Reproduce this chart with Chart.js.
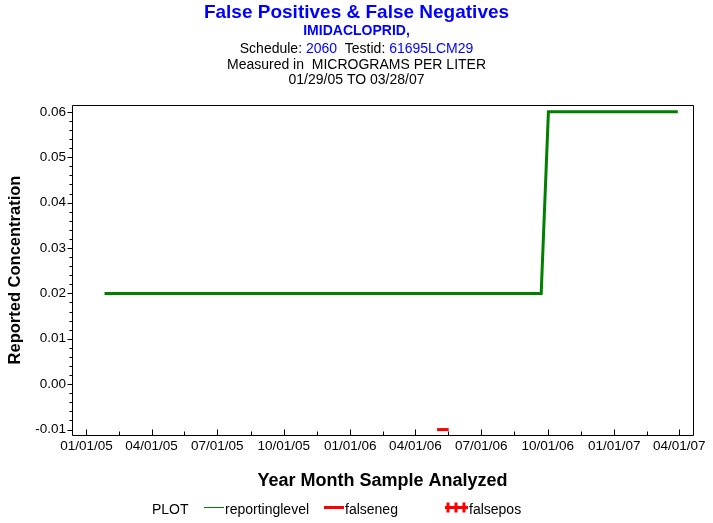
<!DOCTYPE html>
<html lang="en">
<head>
<meta charset="UTF-8">
<title>False Positives &amp; False Negatives</title>
<script src="https://cdn.jsdelivr.net/npm/chart.js"></script>
<style>
  body { margin: 0; background: #fff; }
  .chart-container { position: relative; width: 713px; height: 523px; }
</style>
</head>
<body>
<div class="chart-container"><canvas id="myChart"></canvas></div>
<script>
// data
const reportDates = ['01/26/05', '09/22/06', '10/02/06', '03/30/07'];
const reportValues = [0.02, 0.02, 0.06, 0.06];
const falseNegDates = ['05/01/06', '05/17/06'];
const falseNegValues = [-0.01, -0.01];
const falsePosDates = [];
const falsePosValues = [];
const xTickLabels = ['01/01/05', '04/01/05', '07/01/05', '10/01/05', '01/01/06', '04/01/06',
                     '07/01/06', '10/01/06', '01/01/07', '04/01/07'];
const yTickValues = [-0.01, 0.00, 0.01, 0.02, 0.03, 0.04, 0.05, 0.06];
const xRange = ['12/12/04', '04/20/07'];
const yRange = [-0.0112, 0.0615];

const BLUE = '#0000ff';
const GREEN = '#008000';
const RED = '#ff0000';
const FONT = '"Liberation Sans", Arial, sans-serif';

// mm/dd/yy -> day number
function toDay(s) {
    const [m, d, y] = s.split('/').map(Number);
    return Date.UTC(2000 + y, m - 1, d) / 86400000;
}
function points(dates, values) {
    return dates.map((d, i) => ({ x: toDay(d), y: values[i] }));
}

const xTickValues = xTickLabels.map(toDay);

// header lines, each a list of [text, colour]
const headerLines = [
    { font: 'bold 19px ' + FONT, base: 17.5, parts: [['False Positives & False Negatives', BLUE]] },
    { font: 'bold 14px ' + FONT, base: 35, parts: [['IMIDACLOPRID,', BLUE]] },
    { font: '14px ' + FONT, base: 53, parts: [['Schedule: ', '#000'], ['2060', BLUE], ['  Testid: ', '#000'], ['61695LCM29', BLUE]] },
    { font: '14px ' + FONT, base: 68.5, parts: [['Measured in  MICROGRAMS PER LITER', '#000']] },
    { font: '14px ' + FONT, base: 84, parts: [['01/29/05 TO 03/28/07', '#000']] }
];

const headerPlugin = {
    id: 'header',
    afterDraw(chart) {
        const ctx = chart.ctx;
        const cx = chart.width / 2;
        ctx.save();
        ctx.textBaseline = 'alphabetic';
        ctx.textAlign = 'left';
        headerLines.forEach(line => {
            ctx.font = line.font;
            const total = line.parts.reduce((w, p) => w + ctx.measureText(p[0]).width, 0);
            let x = cx - total / 2;
            line.parts.forEach(p => {
                ctx.fillStyle = p[1];
                ctx.fillText(p[0], x, line.base);
                x += ctx.measureText(p[0]).width;
            });
        });
        ctx.restore();
    }
};

// frame and tick marks (x ticks point inward, y ticks outward)
const framePlugin = {
    id: 'frame',
    afterDraw(chart) {
        const { ctx, chartArea: a, scales: { x, y } } = chart;
        const L = Math.round(a.left) + 0.5, R = Math.round(a.right) + 0.5;
        const T = Math.round(a.top) + 0.5, B = Math.round(a.bottom) + 0.5;
        ctx.save();
        ctx.strokeStyle = '#000';
        ctx.lineWidth = 1;
        ctx.beginPath();
        ctx.rect(L, T, R - L, B - T);
        xTickValues.forEach((v, i) => {
            const px = Math.round(x.getPixelForValue(v)) + 0.5;
            ctx.moveTo(px, B); ctx.lineTo(px, B - 6);
            if (i < xTickValues.length - 1) {
                const mx = Math.round(x.getPixelForValue((v + xTickValues[i + 1]) / 2)) + 0.5;
                ctx.moveTo(mx, B); ctx.lineTo(mx, B - 4);
            }
        });
        yTickValues.forEach((v, i) => {
            const py = Math.round(y.getPixelForValue(v)) + 0.5;
            ctx.moveTo(L, py); ctx.lineTo(L - 5, py);
            if (i < yTickValues.length - 1) {
                const step = (yTickValues[i + 1] - v) / 5;
                for (let k = 1; k < 5; k++) {
                    const my = Math.round(y.getPixelForValue(v + step * k)) + 0.5;
                    ctx.moveTo(L, my); ctx.lineTo(L - 3, my);
                }
            }
        });
        ctx.stroke();
        ctx.restore();
    }
};

// legend row at the bottom
const legendPlugin = {
    id: 'plotLegend',
    afterDraw(chart) {
        const ctx = chart.ctx;
        const ds = chart.data.datasets;
        const baseY = 514, lineY = 507.5;
        ctx.save();
        ctx.font = '14px ' + FONT;
        ctx.fillStyle = '#000';
        ctx.textBaseline = 'alphabetic';
        ctx.fillText('PLOT', 152, baseY);
        const slots = [204, 324, 445];
        ds.forEach((d, i) => {
            const x0 = slots[i];
            ctx.strokeStyle = d.borderColor;
            ctx.lineWidth = i === 0 ? 1 : 3;
            ctx.beginPath();
            ctx.moveTo(x0, lineY); ctx.lineTo(x0 + (i === 2 ? 23 : 20), lineY);
            ctx.stroke();
            let tx = x0 + 21;
            if (i === 2) {
                ctx.lineWidth = 3;
                ctx.beginPath();
                [x0 + 3, x0 + 11, x0 + 19].forEach(px => { ctx.moveTo(px, lineY - 5); ctx.lineTo(px, lineY + 5); });
                ctx.stroke();
                tx = x0 + 24;
            }
            ctx.fillStyle = '#000';
            ctx.fillText(d.label, tx, baseY);
        });
        ctx.restore();
    }
};

Chart.defaults.font.family = FONT;
Chart.defaults.color = '#000';

const ctx = document.getElementById('myChart').getContext('2d');
const myChart = new Chart(ctx, {
    type: 'line',
    data: {
        datasets: [{
            label: 'reportinglevel',
            data: points(reportDates, reportValues),
            borderColor: GREEN,
            borderWidth: 3,
            pointRadius: 0,
            fill: false
        }, {
            label: 'falseneg',
            data: points(falseNegDates, falseNegValues),
            borderColor: RED,
            borderWidth: 3,
            pointRadius: 0,
            fill: false
        }, {
            label: 'falsepos',
            data: points(falsePosDates, falsePosValues),
            borderColor: RED,
            borderWidth: 3,
            pointStyle: 'cross',
            pointRadius: 5,
            showLine: false
        }]
    },
    options: {
        responsive: true,
        maintainAspectRatio: false,
        animation: false,
        layout: { padding: { top: 105, right: 20, bottom: 0, left: 0 } },
        plugins: {
            legend: { display: false },
            tooltip: { enabled: false }
        },
        scales: {
            x: {
                type: 'linear',
                min: toDay(xRange[0]),
                max: toDay(xRange[1]),
                afterBuildTicks: s => { s.ticks = xTickValues.map(v => ({ value: v })); },
                afterFit: s => { s.height = 88; },
                grid: { display: false, drawTicks: false },
                border: { display: false },
                ticks: {
                    autoSkip: false,
                    maxRotation: 0,
                    padding: 3,
                    font: { size: 13.5 },
                    callback: (v, i) => xTickLabels[i]
                },
                title: {
                    display: true,
                    text: 'Year Month Sample Analyzed',
                    font: { size: 18, weight: 'bold' },
                    padding: { top: 0, bottom: 31 }
                }
            },
            y: {
                type: 'linear',
                min: yRange[0],
                max: yRange[1],
                afterBuildTicks: s => { s.ticks = yTickValues.map(v => ({ value: v })); },
                afterFit: s => { s.width = 72; },
                grid: { display: false, drawTicks: false },
                border: { display: false },
                ticks: {
                    padding: 6,
                    font: { size: 13.5 },
                    callback: v => v.toFixed(2)
                },
                title: {
                    display: true,
                    text: 'Reported Concentration',
                    font: { size: 16.5, weight: 'bold' },
                    padding: { top: 6, bottom: 0 }
                }
            }
        }
    },
    plugins: [headerPlugin, framePlugin, legendPlugin]
});
</script>
</body>
</html>
